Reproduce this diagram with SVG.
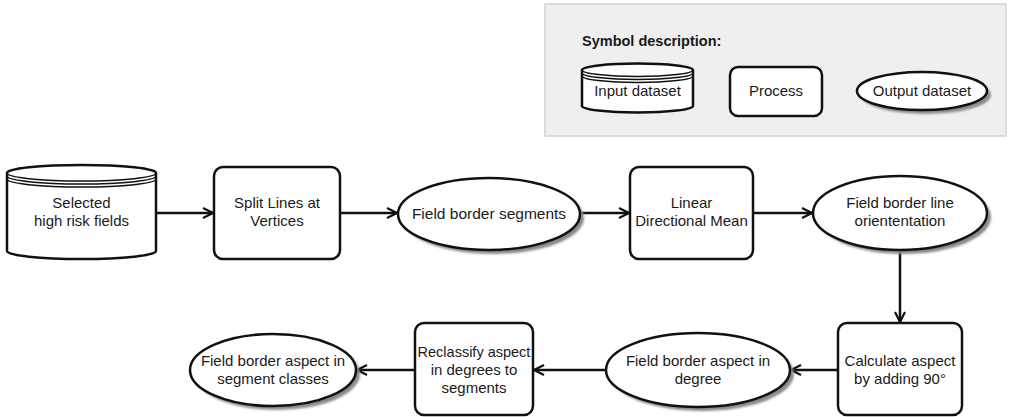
<svg xmlns="http://www.w3.org/2000/svg" width="1010" height="417" viewBox="0 0 1010 417">
  <defs>
    <style>
      text { font-family: "Liberation Sans", Arial, sans-serif; font-size: 15px; fill: #1a1a1a; text-anchor: middle; }
      .shape { fill: #fff; stroke: #111; stroke-width: 2.5; }
      .shadow { fill: #8a8a8a; filter: url(#soft); }
      .edge { fill: none; stroke: #111; stroke-width: 2.5; marker-end: url(#arrow); }
    </style>
    <filter id="soft" x="-20%" y="-20%" width="140%" height="140%">
      <feGaussianBlur stdDeviation="1.2"/>
    </filter>
    <marker id="arrow" viewBox="0 0 12 12" refX="11" refY="6" markerWidth="12" markerHeight="12" markerUnits="userSpaceOnUse" orient="auto">
      <path d="M1,1 L11,6 L1,11" fill="none" stroke="#111" stroke-width="2.2"/>
    </marker>
  </defs>

  <rect width="1010" height="417" fill="#fff"/>

  <!-- Legend -->
  <g id="legend">
    <rect x="545" y="4" width="461" height="132" fill="#efefef" stroke="#d4d4d4" stroke-width="1.5"/>
    <text x="582" y="46" style="font-weight:bold;font-size:14.5px;text-anchor:start">Symbol description:</text>
    <g id="legend-input">
      <path class="shape" d="M582,70 A55.5,6.5 0 0 1 693,70 L693,106 A55.5,6.5 0 0 1 582,106 Z"/>
      <path d="M582,73 A55.5,6.5 0 0 0 693,73 M582,76 A55.5,6.5 0 0 0 693,76 M582,70 A55.5,6.5 0 0 0 693,70" fill="none" stroke="#111" stroke-width="1.5"/>
      <text x="637.5" y="96">Input dataset</text>
    </g>
    <g id="legend-process">
      <rect class="shape" x="730" y="67" width="92" height="49" rx="8"/>
      <text x="776" y="96">Process</text>
    </g>
    <g id="legend-output">
      <ellipse class="shadow" cx="926" cy="95" rx="65" ry="19"/>
      <ellipse class="shape" cx="922" cy="91" rx="65" ry="19"/>
      <text x="922" y="96">Output dataset</text>
    </g>
  </g>

  <!-- Connectors -->
  <g id="connectors">
    <path class="edge" d="M156,213 L213,213"/>
    <path class="edge" d="M340,213 L397,213"/>
    <path class="edge" d="M580,213 L629,213"/>
    <path class="edge" d="M753,213 L812,213"/>
    <path class="edge" d="M900,250 L900,322"/>
    <path class="edge" d="M838,370 L791,370"/>
    <path class="edge" d="M606,370 L534,370"/>
    <path class="edge" d="M415,370 L357,370"/>
  </g>

  <!-- Nodes -->
  <g id="selected-fields">
    <path class="shape" d="M7,173 A74.5,8 0 0 1 156,173 L156,251 A74.5,8 0 0 1 7,251 Z"/>
    <path d="M7,173 A74.5,8 0 0 0 156,173 M7,176 A74.5,8 0 0 0 156,176 M7,179 A74.5,8 0 0 0 156,179" fill="none" stroke="#111" stroke-width="1.5"/>
    <text x="81.5" y="208">Selected</text>
    <text x="81.5" y="226">high risk fields</text>
  </g>

  <g id="split-lines">
    <rect class="shape" x="214" y="167" width="126" height="92" rx="9"/>
    <text x="277" y="208">Split Lines at</text>
    <text x="277" y="226">Vertices</text>
  </g>

  <g id="border-segments">
    <ellipse class="shadow" cx="493" cy="218" rx="91" ry="36"/>
    <ellipse class="shape" cx="489" cy="214" rx="91" ry="36"/>
    <text x="489" y="219" style="font-size:15.5px">Field border segments</text>
  </g>

  <g id="directional-mean">
    <rect class="shape" x="630" y="167" width="123" height="92" rx="9"/>
    <text x="691.5" y="208">Linear</text>
    <text x="691.5" y="226">Directional Mean</text>
  </g>

  <g id="line-orientation">
    <ellipse class="shadow" cx="904" cy="217" rx="87" ry="37"/>
    <ellipse class="shape" cx="900" cy="213" rx="87" ry="37"/>
    <text x="900" y="208">Field border line</text>
    <text x="900" y="226">oriententation</text>
  </g>

  <g id="calculate-aspect">
    <rect class="shape" x="838" y="323" width="124" height="92" rx="9"/>
    <text x="900" y="366">Calculate aspect</text>
    <text x="900" y="384">by adding 90°</text>
  </g>

  <g id="aspect-degree">
    <ellipse class="shadow" cx="702" cy="374" rx="92" ry="37"/>
    <ellipse class="shape" cx="698" cy="370" rx="92" ry="37"/>
    <text x="698" y="366">Field border aspect in</text>
    <text x="698" y="384">degree</text>
  </g>

  <g id="reclassify">
    <rect class="shape" x="415" y="323" width="118" height="92" rx="9"/>
    <text x="474" y="357" style="font-size:14.5px">Reclassify aspect</text>
    <text x="474" y="375">in degrees to</text>
    <text x="474" y="393">segments</text>
  </g>

  <g id="aspect-classes">
    <ellipse class="shadow" cx="277" cy="374" rx="83" ry="36"/>
    <ellipse class="shape" cx="273" cy="370" rx="83" ry="36"/>
    <text x="273" y="366">Field border aspect in</text>
    <text x="273" y="384">segment classes</text>
  </g>
</svg>
